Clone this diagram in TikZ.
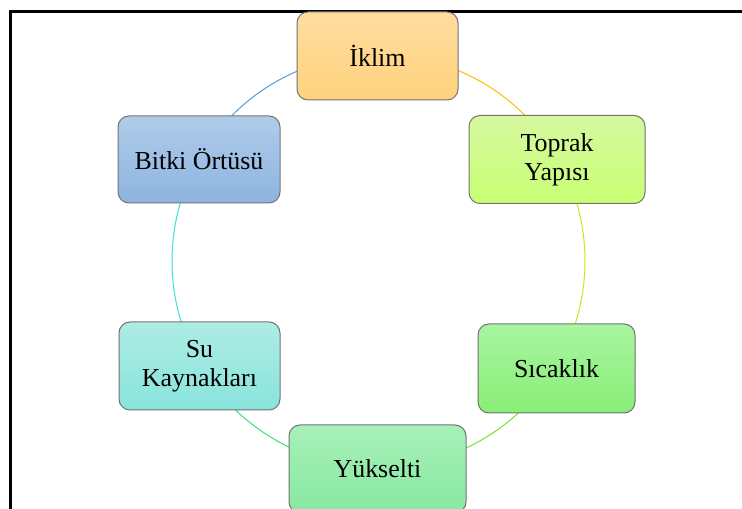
\documentclass[tikz,border=0pt]{standalone}
\usepackage{fontspec}
\setmainfont{Liberation Serif}
\begin{document}
\begin{tikzpicture}[x=1bp,y=1bp,
  cbox/.style={draw=black!55, line width=1bp, rounded corners=11bp, align=center,
    inner sep=0pt, font=\fontsize{26}{29}\selectfont, text=black},
  arcl/.style={line width=1bp}]
\useasboundingbox (0,0) rectangle (742,509);
\fill[white] (0,0) rectangle (742,509);
% frame
\draw[line width=2.2bp] (10.5,0) -- (10.5,497.5) -- (742,497.5);
% circle arcs
\coordinate (c) at (378.5,248);
\def\R{206.5}
\draw[arcl, draw={rgb,255:red,255;green,192;blue,0}] ([shift={(90:\R)}]c) arc[start angle=90,end angle=30,radius=\R];
\draw[arcl, draw={rgb,255:red,184;green,240;blue,30}] ([shift={(30:\R)}]c) arc[start angle=30,end angle=-30,radius=\R];
\draw[arcl, draw={rgb,255:red,110;green,230;blue,50}] ([shift={(-30:\R)}]c) arc[start angle=-30,end angle=-90,radius=\R];
\draw[arcl, draw={rgb,255:red,60;green,225;blue,120}] ([shift={(-90:\R)}]c) arc[start angle=-90,end angle=-150,radius=\R];
\draw[arcl, draw={rgb,255:red,64;green,224;blue,208}] ([shift={(-150:\R)}]c) arc[start angle=-150,end angle=-210,radius=\R];
\draw[arcl, draw={rgb,255:red,91;green,155;blue,213}] ([shift={(150:\R)}]c) arc[start angle=150,end angle=90,radius=\R];
% boxes
\node[cbox, minimum width=161bp, minimum height=88bp,
  top color={rgb,255:red,255;green,221;blue,160}, bottom color={rgb,255:red,255;green,210;blue,125}]
  (iklim) at (377.5,453) {İklim};
\node[cbox, minimum width=176bp, minimum height=88bp,
  top color={rgb,255:red,214;green,248;blue,160}, bottom color={rgb,255:red,200;green,255;blue,115}]
  (toprak) at (557,349.5) {Toprak\\Yapısı};
\node[cbox, minimum width=157bp, minimum height=89bp,
  top color={rgb,255:red,168;green,245;blue,160}, bottom color={rgb,255:red,136;green,238;blue,118}]
  (sicaklik) at (556.5,140.5) {Sıcaklık};
\node[cbox, minimum width=177bp, minimum height=88bp,
  top color={rgb,255:red,168;green,240;blue,184}, bottom color={rgb,255:red,136;green,232;blue,160}]
  (yukselti) at (377.5,40) {Yükselti};
\node[cbox, minimum width=161bp, minimum height=88bp,
  top color={rgb,255:red,174;green,236;blue,228}, bottom color={rgb,255:red,136;green,228;blue,220}]
  (su) at (199.5,143) {Su\\Kaynakları};
\node[cbox, minimum width=162bp, minimum height=87bp,
  top color={rgb,255:red,176;green,204;blue,234}, bottom color={rgb,255:red,140;green,180;blue,224}]
  (bitki) at (199,349.5) {Bitki Örtüsü};
\end{tikzpicture}
\end{document}
